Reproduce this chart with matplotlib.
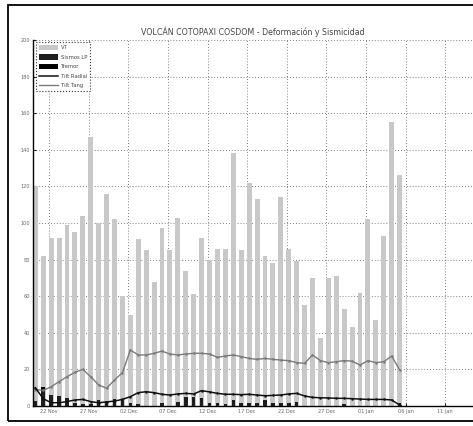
import matplotlib
matplotlib.use('Agg')
import matplotlib.pyplot as plt
import matplotlib.dates as mdates
from matplotlib.patches import Rectangle, Patch
from matplotlib.lines import Line2D
import pandas as pd
import numpy as np

# ---------------- data ----------------
dates = pd.date_range('2001-11-20', '2002-01-05', freq='D')

vt = [120, 82, 92, 92, 99, 95, 104, 147, 100, 116, 102,
      60, 50, 91, 85, 68, 97, 85, 103, 74, 61, 92, 80, 86, 86, 138,
      85, 122, 113, 82, 78, 114, 86, 79, 55, 70, 37, 70, 71, 53, 43, 62,
      102, 47, 93, 155, 126]

lp = [3, 9, 6, 5.2, 4.3, 1.5, 1.2, 1, 3.2, 2.6, 3.6,
      3.8, 1.8, 1, 0, 0, 1.7, 0, 2.4, 5, 5, 4.4, 1.8, 1.5, 1.3, 3.3,
      1.5, 1.5, 1.8, 3.3, 1.5, 1.8, 1.5, 2.2, 0, 0, 0, 0, 0, 1, 0, 0,
      0, 0, 0, 0, 1.8]

tremor = [0, 1.5, 0, 0, 0, 0, 0, 0, 0, 0, 0,
          0, 0, 0, 0, 0, 0, 0, 0, 0, 0, 0, 0, 0, 0, 0,
          0, 0, 0, 0, 0, 0, 0, 0, 0, 0, 0, 0, 0, 0, 0, 0,
          0, 0, 0, 0, 0]

tilt_radial = [10, 4, 1.8, 1.8, 2.4, 3.3, 3.6, 2.4, 1.8, 2.2, 2.7,
               3.6, 5.1, 7.3, 7.8, 7.3, 6.4, 6.0, 6.6, 6.9, 6.6, 8.4,
               7.7, 6.9, 6.4, 6.4, 6.2, 6.4, 6.0, 5.6, 5.8, 6.0, 6.6,
               6.9, 5.5, 4.7, 4.5, 4.4, 4.2, 4.2, 4.0, 3.8, 3.6, 3.6,
               3.6, 3.3, 0.5]

tilt_tang = [9, 8.5, 10.5, 13.3, 16, 18.4, 20, 16, 11.5, 9.7, 14.2,
             18.2, 30.6, 27.9, 27.9, 28.8, 30, 28.4, 27.9, 28.4, 28.8,
             28.8, 28.4, 26.6, 27.3, 27.9, 27, 26, 25.5, 26, 25.5, 25.1,
             24.8, 23.7, 23.3, 27.9, 24.8, 23.7, 24.2, 24.8, 24.5, 22.4,
             24.8, 23.7, 24.2, 27.3, 19.7]

tick_dates = pd.date_range('2001-11-22', '2002-01-11', freq='5D')
tick_labels = [d.strftime('%d %b') for d in tick_dates]
yticks = list(range(0, 201, 20))

title = 'VOLCÁN COTOPAXI COSDOM - Deformación y Sismicidad'

# ---------------- figure ----------------
W, H = 473, 426
fig = plt.figure(figsize=(W / 100, H / 100), dpi=100)
fig.patch.set_facecolor('white')

ax_w_px = W - 33 + 10
ax = fig.add_axes([33 / W, (H - 406) / H, ax_w_px / W, (406 - 40) / H])

x = mdates.date2num(dates) + 0.25
ax.bar(x, vt, width=0.62, color='#c8c8c8', edgecolor='none', zorder=2)
ax.bar(x, lp, width=0.45, color='#1e1e1e', edgecolor='none', zorder=3)
ax.bar(x, tremor, bottom=lp, width=0.45, color='#000000', edgecolor='none', zorder=3)
ax.plot(x, tilt_tang, color='#7a7a7a', lw=1.0, marker='.', ms=1.5, zorder=4)
ax.plot(x, tilt_radial, color='#111111', lw=1.1, marker='.', ms=1.5, zorder=4)

x0 = mdates.date2num(pd.Timestamp('2001-11-20'))
ax.set_xlim(x0 - 0.04, x0 - 0.04 + ax_w_px / 7.92)
ax.set_ylim(0, 200)

ax.set_xticks(mdates.date2num(tick_dates))
ax.set_xticklabels(tick_labels)
ax.set_yticks(yticks)
ax.tick_params(axis='both', labelsize=3.6, labelcolor='#666666', length=2,
               direction='in', pad=2, color='#222222')

ax.grid(True, linestyle=(0, (1, 2.5)), color='#555555', lw=0.6)
ax.set_axisbelow(True)
for s in ['top', 'right']:
    ax.spines[s].set_visible(False)
ax.spines['left'].set_linewidth(1.0)
ax.spines['bottom'].set_linewidth(1.0)

fig.text(253 / W, 1 - 32 / H, title, ha='center', va='center', fontsize=5.7, color='#444444')

handles = [Patch(facecolor='#c8c8c8', edgecolor='none', label='VT'),
           Patch(facecolor='#1e1e1e', edgecolor='none', label='Sismos LP'),
           Patch(facecolor='#000000', edgecolor='none', label='Tremor'),
           Line2D([], [], color='#111111', lw=1.1, label='Tilt Radial'),
           Line2D([], [], color='#7a7a7a', lw=1.0, label='Tilt Tang')]
leg = ax.legend(handles=handles, loc='upper left', bbox_to_anchor=(0.006, 0.995),
                borderaxespad=0, fontsize=3.8, handlelength=3.7, handleheight=1.2,
                labelspacing=0.75, fancybox=False, framealpha=1, edgecolor='#333333',
                borderpad=0.6, handletextpad=0.4)
leg.get_frame().set_linestyle(':')
leg.get_frame().set_linewidth(0.8)
for t in leg.get_texts():
    t.set_color('#444444')

# outer border
fig.add_artist(Rectangle((8 / W, 1 - 421 / H), 1.2, (421 - 5) / H, transform=fig.transFigure,
                         fill=False, edgecolor='black', lw=1.3))

fig.savefig('out.png', dpi=100)
